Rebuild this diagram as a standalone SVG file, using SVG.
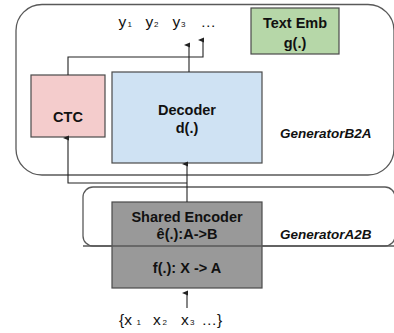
<svg xmlns="http://www.w3.org/2000/svg" width="394" height="333" viewBox="0 0 394 333">
<defs>
<marker id="ah" markerWidth="6" markerHeight="6" refX="3" refY="5" orient="auto-start-reverse" markerUnits="userSpaceOnUse" viewBox="0 0 6 6">
<path d="M0.5,6 L3,0 L5.5,6 Z" fill="#222"/>
</marker>
<style>
.grp{fill:none;stroke:#595959;stroke-width:1.3}
.box{stroke:#4a4a4a;stroke-width:1.2}
.lbl{font-family:"Liberation Sans",Arial,sans-serif;font-weight:bold;font-size:14.5px;fill:#111;text-anchor:middle}
.gen{font-family:"Liberation Sans",Arial,sans-serif;font-weight:bold;font-style:italic;font-size:13.5px;fill:#111}
.seq{font-family:"Liberation Sans",Arial,sans-serif;font-size:15.5px;fill:#111}
.sub{font-size:8px}
.con{fill:none;stroke:#222;stroke-width:1.1}
</style>
</defs>
<g id="generatorB2A"><rect class="grp" x="16" y="4.5" width="378" height="170.5" rx="26"/><text class="gen" x="280" y="138">GeneratorB2A</text></g>
<g id="generatorA2B"><rect class="grp" x="83" y="187" width="312" height="59" rx="10"/><text class="gen" x="280" y="239">GeneratorA2B</text></g>
<g id="ctc"><rect class="box" x="31" y="75" width="74" height="62" fill="#f4cccc"/><text class="lbl" x="68" y="122">CTC</text></g>
<g id="decoder"><rect class="box" x="112" y="72" width="150" height="91" fill="#cfe2f3"/><text class="lbl" x="187" y="115">Decoder</text><text class="lbl" x="187" y="133">d(.)</text></g>
<g id="textemb"><rect class="box" x="251" y="8" width="88" height="46" fill="#b6d7a8"/><text class="lbl" x="295" y="28">Text Emb</text><text class="lbl" x="295" y="48">g(.)</text></g>
<g id="encoder"><rect class="box" x="112" y="202" width="150" height="86" fill="#999999"/><text class="lbl" x="187" y="222">Shared Encoder</text><text class="lbl" x="187" y="239">ê(.):A-&gt;B</text><text class="lbl" x="187" y="273">f(.): X -&gt; A</text></g>
<line x1="83" y1="246" x2="395" y2="246" stroke="#595959" stroke-width="1.3"/>
<g id="outputs"><text class="seq" y="27"><tspan x="118.5">y</tspan><tspan class="sub" x="127.5">1</tspan><tspan x="145.5">y</tspan><tspan class="sub" x="154">2</tspan><tspan x="172.5">y</tspan><tspan class="sub" x="181">3</tspan><tspan x="200.5">…</tspan></text></g>
<g id="inputs"><text class="seq" y="325"><tspan x="119">{x</tspan><tspan class="sub" x="136.5">1</tspan><tspan x="153">x</tspan><tspan class="sub" x="162.5">2</tspan><tspan x="181">x</tspan><tspan class="sub" x="190">3</tspan><tspan x="201.5">…}</tspan></text></g>
<g id="connectors">
<path class="con" d="M187,202 V164" marker-end="url(#ah)"/>
<path class="con" d="M187,183 H68 V138" marker-end="url(#ah)"/>
<path class="con" d="M189,72 V45" marker-end="url(#ah)"/>
<path class="con" d="M68,75 V57 H203 V40" marker-end="url(#ah)"/>
<path class="con" d="M187,308 V293" marker-end="url(#ah)"/>
</g>
</svg>
